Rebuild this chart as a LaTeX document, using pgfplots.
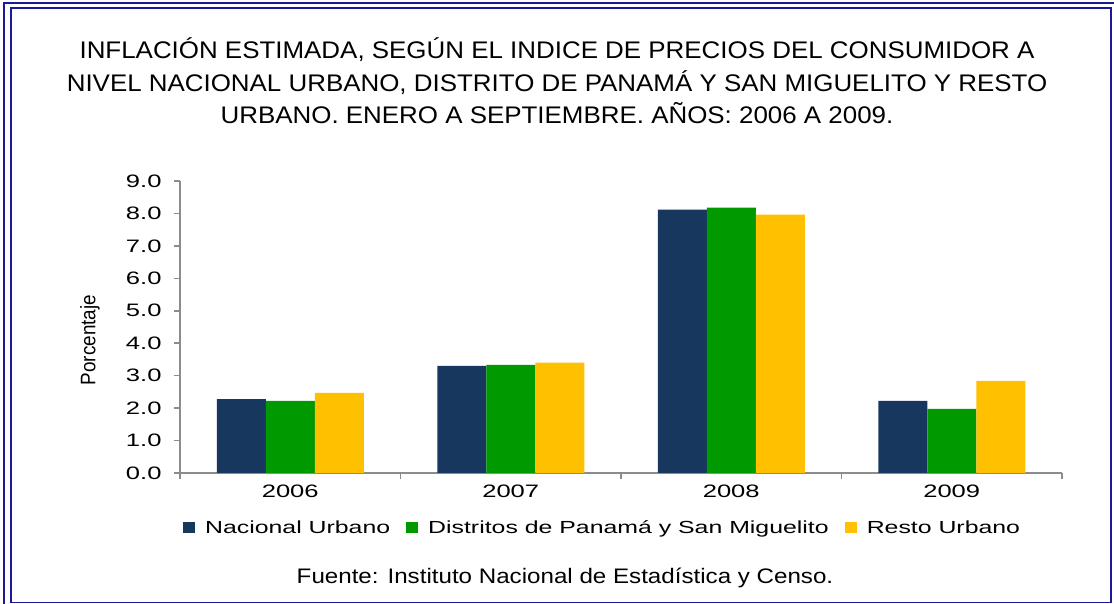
\documentclass[border=0pt]{standalone}
\usepackage{pgfplots}
\pgfplotsset{compat=1.18}
\usepackage{fontspec}
\setmainfont{Liberation Sans}
\newfontfamily\widefont[FakeStretch=1.42]{Liberation Sans}
\newfontfamily\titlefont[FakeStretch=1.08]{Liberation Sans}
\newfontfamily\srcfont[FakeStretch=1.15]{Liberation Sans}
\newfontfamily\narrowfont[FakeStretch=0.9]{Liberation Sans}
\definecolor{frameblue}{HTML}{1A1A96}
\definecolor{navyb}{HTML}{17375E}
\definecolor{greenb}{HTML}{009900}
\definecolor{yellowb}{HTML}{FFC000}
\definecolor{axgray}{HTML}{8C8C8C}

\begin{document}
\begin{tikzpicture}[x=1pt,y=1pt]
\useasboundingbox (0,0) rectangle (1114,604);
% double frame
\draw[frameblue, line width=2.6pt] (4,-5) -- (4,601) -- (1120,601);
\draw[frameblue, line width=1.8pt] (11,1.5) -- (11,596) -- (1111,596) -- (1111,1.5) -- cycle;

% title
\node[anchor=base, font=\titlefont\fontsize{24}{28}\selectfont] at (557,545)
  {INFLACIÓN ESTIMADA, SEGÚN EL INDICE DE PRECIOS DEL CONSUMIDOR A};
\node[anchor=base, font=\titlefont\fontsize{24}{28}\selectfont] at (557,512.5)
  {NIVEL NACIONAL URBANO, DISTRITO DE PANAMÁ Y SAN MIGUELITO Y RESTO};
\node[anchor=base, font=\titlefont\fontsize{24}{28}\selectfont] at (557,480.5)
  {URBANO. ENERO A SEPTIEMBRE. AÑOS: 2006 A 2009.};

% y label
\node[rotate=90, font=\narrowfont\fontsize{21}{23}\selectfont] at (90,264) {Porcentaje};

\begin{axis}[
  at={(180pt,131pt)}, anchor=south west,
  scale only axis, width=882pt, height=292pt,
  xmin=-0.5, xmax=3.5, ymin=0, ymax=9,
  axis x line=bottom, axis y line=left,
  axis line style={axgray, line width=1.5pt, -},
  tick style={axgray, line width=1.5pt},
  tick align=outside, major tick length=6pt,
  xtick={-0.5,0.5,1.5,2.5,3.5},
  x tick label as interval,
  xticklabels={2006,2007,2008,2009},
  ytick={0,1,...,9},
  /pgf/number format/assume math mode=true,
  ticklabel style={font=\widefont\fontsize{18}{20}\selectfont, text=black},
  yticklabel style={xshift=-9pt, /pgf/number format/.cd, fixed, fixed zerofill, precision=1},
  xticklabel style={yshift=-2pt},
  ybar=0pt, bar width=49pt,
  legend columns=3,
  legend style={at={(0.478,-0.188)}, anchor=center, draw=none, fill=none,
    font=\widefont\fontsize{17.5}{20}\selectfont,
    /tikz/every odd column/.append style={column sep=10pt},
    /tikz/every even column/.append style={column sep=16pt},
    nodes={inner xsep=0pt}},
  legend image code/.code={\fill[#1] (0pt,-5.5pt) rectangle (12pt,5.5pt);},
]
\addplot[fill=navyb, draw=none] coordinates {(0,2.28) (1,3.30) (2,8.12) (3,2.22)};
\addlegendentry{Nacional Urbano}
\addplot[fill=greenb, draw=none] coordinates {(0,2.22) (1,3.33) (2,8.18) (3,1.98)};
\addlegendentry{Distritos de Panamá y San Miguelito}
\addplot[fill=yellowb, draw=none] coordinates {(0,2.47) (1,3.40) (2,7.96) (3,2.84)};
\addlegendentry{Resto Urbano}
\end{axis}

% source
\node[anchor=base, font=\srcfont\fontsize{21}{24}\selectfont] at (565,20)
  {Fuente: Instituto Nacional de Estadística y Censo.};
\end{tikzpicture}
\end{document}
